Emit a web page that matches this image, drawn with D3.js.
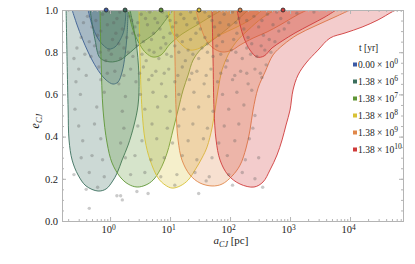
<!DOCTYPE html>
<html>
<head>
<meta charset="utf-8">
<script src="https://cdn.jsdelivr.net/npm/d3@7"></script>
<style>
  body { margin: 0; background: #fff; }
  text { font-family: "Liberation Serif", "DejaVu Serif", serif; fill: #222; }
</style>
</head>
<body>
<div id="chart"></div>
<script>
// times in the legend: mantissa and exponent of t [yr]
const timeMant = ["0.00", "1.38", "1.38", "1.38", "1.38", "1.38"];
const timeExp = ["0", "6", "7", "8", "9", "10"];

// mean a_CJ marker of each time, drawn on the e = 1 line
const markerA = [0.86, 1.78, 7.08, 30.4, 147, 764];

// contour outlines [a_CJ (pc), e_CJ], outer and inner level for each time
const outerT0 = [[0.233,1],[0.282,0.929],[0.341,0.867],[0.43,0.801],[0.521,0.754],[0.681,0.701],[0.858,0.668],[1.12,0.649],[1.36,0.659],[1.585,0.706],[1.78,0.787],[1.92,0.882],[2.0,1]];
const innerT0 = [[0.43,1],[0.501,0.929],[0.607,0.872],[0.764,0.834],[0.962,0.815],[1.21,0.825],[1.47,0.858],[1.71,0.905],[1.85,1]];

const outerT6 = [[0.185,1],[0.192,0.763],[0.2,0.526],[0.207,0.384],[0.233,0.289],[0.293,0.218],[0.398,0.166],[0.631,0.142],[0.858,0.152],[1.08,0.185],[1.31,0.227],[1.585,0.289],[2.0,0.36],[2.51,0.455],[2.93,0.55],[3.04,0.668],[2.82,0.81],[2.42,0.929],[2.15,1]];
const innerT6 = [[0.464,1],[0.562,0.858],[0.681,0.773],[1.0,0.754],[1.47,0.763],[2.0,0.791],[3.16,0.839],[5.62,0.891],[8.91,0.962],[11.2,1]];

const outerT7 = [[0.681,1],[0.708,0.763],[0.764,0.526],[0.891,0.37],[1.08,0.275],[1.47,0.209],[2.0,0.175],[2.82,0.161],[3.98,0.171],[5.21,0.194],[6.81,0.242],[8.91,0.322],[11.2,0.431],[13.6,0.526],[16.5,0.621],[20,0.692],[24.2,0.763],[31.6,0.81],[46.4,0.848],[73.6,0.891],[121,0.943],[200,1]];
const innerT7 = [[2.0,1],[2.42,0.905],[3.16,0.834],[3.98,0.796],[5.21,0.777],[7.08,0.787],[10,0.839],[15.8,0.886],[28.2,0.929],[46.4,0.967],[73.6,1]];

const outerT8 = [[3.04,1],[3.16,0.763],[3.41,0.526],[3.83,0.384],[4.64,0.289],[6.31,0.204],[8.25,0.171],[10.8,0.156],[14.7,0.166],[20,0.194],[26.1,0.242],[34.1,0.299],[41.4,0.351],[50.1,0.441],[56.2,0.526],[63.1,0.621],[73.6,0.716],[92.6,0.787],[126,0.848],[200,0.905],[341,0.962],[562,1]];
const innerT8 = [[9.26,1],[10.8,0.896],[15.8,0.834],[21.5,0.81],[31.6,0.82],[43,0.848],[68.1,0.882],[121,0.915],[215,0.953],[341,1]];

const outerT9 = [[11.7,1],[12.1,0.763],[12.6,0.526],[13.6,0.384],[15.8,0.289],[21.5,0.218],[31.6,0.18],[50.1,0.166],[73.6,0.175],[108,0.213],[147,0.265],[185,0.346],[215,0.431],[242,0.526],[293,0.63],[383,0.706],[521,0.787],[764,0.834],[1309,0.882],[2610,0.924],[5620,0.967],[10000,1]];
const innerT9 = [[27.1,1],[31.6,0.929],[39.8,0.858],[52.1,0.82],[73.6,0.801],[108,0.81],[147,0.834],[242,0.867],[414,0.896],[681,0.929],[1309,0.976],[1920,1]];

const outerT10 = [[50.1,1],[52.1,0.763],[54.1,0.526],[58.5,0.384],[68.1,0.289],[92.6,0.218],[147,0.175],[251,0.161],[355,0.185],[464,0.242],[607,0.313],[736,0.384],[858,0.455],[1000,0.526],[1122,0.621],[1360,0.692],[1850,0.749],[2930,0.81],[4640,0.867],[8250,0.891],[15850,0.919],[29300,0.953],[50100,0.991],[58500,1]];
const innerT10 = [[131,1],[147,0.929],[171,0.867],[215,0.81],[282,0.777],[369,0.782],[501,0.82],[736,0.853],[1210,0.891],[2150,0.929],[3830,0.967],[5850,1]];

// sampled systems [a_CJ (pc), e_CJ]
const samples = [
  [0.42,0.97],[0.75,0.98],[1.3,0.96],[2.1,0.97],[3.3,0.98],[5.6,0.96],[9,0.97],[15,0.98],[26,0.96],[45,0.97],[80,0.98],[140,0.96],[250,0.97],[420,0.98],[700,0.96],[1300,0.985],[2500,0.99],
  [0.36,0.94],[0.58,0.95],[1.0,0.99],[1.15,0.94],[1.45,0.99],[2.3,0.95],[2.9,0.94],[3.9,0.96],[4.6,0.99],[6.2,0.94],[7.5,0.99],[10,0.95],[12.5,0.94],[17,0.96],[22,0.99],[29,0.94],[38,0.99],[50,0.95],[68,0.94],[110,0.99],[125,0.94],[190,0.95],[340,0.95],[600,0.99],
  [0.5,0.92],[0.9,0.93],[1.6,0.91],[2.6,0.92],[4.2,0.93],[6.8,0.91],[11,0.92],[19,0.93],[32,0.91],[55,0.92],[95,0.93],[170,0.91],[300,0.92],[520,0.93],[950,0.94],
  [0.33,0.87],[0.62,0.88],[1.1,0.86],[1.9,0.87],[3,0.88],[4.9,0.86],[7.8,0.87],[13,0.88],[22,0.86],[38,0.87],[65,0.88],[115,0.86],[200,0.87],[360,0.88],[650,0.9],
  [0.45,0.85],[0.7,0.9],[1.25,0.89],[1.4,0.84],[2.4,0.89],[3.6,0.85],[5.3,0.89],[8.5,0.84],[10,0.89],[16,0.85],[27,0.89],[42,0.84],[75,0.85],[130,0.89],[230,0.84],[450,0.86],[800,0.91],
  [0.28,0.82],[0.55,0.83],[0.95,0.81],[1.7,0.82],[2.8,0.83],[4.5,0.81],[7,0.82],[12,0.83],[20,0.81],[34,0.82],[60,0.83],[105,0.81],[190,0.82],[330,0.83],[560,0.85],
  [0.38,0.79],[0.68,0.8],[1.05,0.79],[2.0,0.8],[3.4,0.79],[5.4,0.8],[8.8,0.79],[14,0.8],[24,0.79],[42,0.8],[70,0.79],[125,0.8],[220,0.79],[380,0.81],
  [0.25,0.77],[0.48,0.78],[0.85,0.76],[1.5,0.77],[2.4,0.78],[4,0.76],[6.5,0.77],[10.5,0.78],[18,0.76],[30,0.77],[52,0.78],[90,0.76],[160,0.77],[280,0.78],[480,0.8],
  [0.3,0.72],[0.65,0.73],[1.2,0.71],[2.2,0.72],[3.6,0.73],[5.8,0.71],[9.5,0.72],[16,0.73],[28,0.71],[48,0.72],[85,0.73],[150,0.71],[260,0.72],[400,0.74],
  [0.4,0.69],[0.9,0.7],[1.7,0.69],[3.1,0.7],[5,0.69],[8,0.7],[13.5,0.69],[23,0.7],[40,0.69],[70,0.7],[120,0.69],[190,0.7],[320,0.7],
  [0.27,0.66],[0.7,0.67],[1.4,0.65],[2.7,0.66],[4.4,0.67],[7.2,0.65],[12,0.66],[21,0.67],[37,0.65],[62,0.66],[110,0.67],[200,0.65],[340,0.68],
  [0.32,0.6],[0.8,0.61],[1.8,0.59],[3.2,0.6],[5.2,0.61],[8.5,0.59],[14,0.6],[25,0.61],[44,0.59],[75,0.6],[130,0.61],[230,0.62],
  [0.26,0.53],[0.6,0.54],[1.6,0.52],[3.8,0.53],[6.2,0.54],[10,0.52],[17,0.53],[30,0.54],[52,0.52],[95,0.53],[170,0.55],[260,0.5],
  [0.3,0.45],[0.55,0.46],[1.7,0.44],[2.9,0.45],[5,0.46],[9,0.44],[14,0.45],[24,0.46],[42,0.44],[80,0.45],[140,0.46],[240,0.44],
  [0.35,0.38],[0.7,0.39],[1.5,0.37],[3.4,0.38],[6,0.39],[11,0.37],[20,0.38],[36,0.39],[65,0.37],[120,0.38],[210,0.39],
  [0.33,0.3],[0.5,0.31],[0.75,0.29],[1.8,0.3],[2.6,0.31],[4.8,0.29],[8,0.3],[16,0.31],[28,0.29],[50,0.3],[90,0.31],[180,0.29],[300,0.3],
  [0.25,0.22],[0.45,0.23],[0.8,0.21],[2.2,0.22],[3.8,0.23],[7,0.21],[13,0.22],[26,0.23],[45,0.21],[95,0.22],[160,0.23],[260,0.2],
  [0.4,0.15],[0.62,0.16],[1.3,0.12],[1.6,0.1],[2.8,0.14],[4.3,0.13],[12,0.17],[30,0.13],[40,0.19],[110,0.17],[350,0.16],
  [0.45,0.06],[1.5,0.12]
];

const colors = ["#3c5aa6", "#3a6e5c", "#5f9636", "#d8c236", "#e0874a", "#cf3a3a"];
const regions = [
  [outerT0, innerT0], [outerT6, innerT6], [outerT7, innerT7],
  [outerT8, innerT8], [outerT9, innerT9], [outerT10, innerT10]
];

const width = 415, height = 264;
const mLeft = 62, mRight = 403, mTop = 10, mBottom = 221;

const x = d3.scaleLog().domain([0.158, 76400]).range([mLeft, mRight]);
const y = d3.scaleLinear().domain([0, 1]).range([mBottom, mTop]);

const svg = d3.select("#chart").append("svg")
    .attr("width", width)
    .attr("height", height);

svg.append("clipPath").attr("id", "plot")
  .append("rect")
    .attr("x", mLeft).attr("y", mTop)
    .attr("width", mRight - mLeft).attr("height", mBottom - mTop);

const line = d3.line()
    .x(d => x(d[0]))
    .y(d => y(d[1]))
    .curve(d3.curveCatmullRom.alpha(0.5));

const plot = svg.append("g").attr("clip-path", "url(#plot)");

// filled contours, earliest time first
regions.forEach((pair, i) => {
  pair.forEach(pts => {
    plot.append("path")
        .attr("d", line(pts) + "Z")
        .attr("fill", colors[i])
        .attr("fill-opacity", 0.26)
        .attr("stroke", "none");
    plot.append("path")
        .attr("d", line(pts))
        .attr("fill", "none")
        .attr("stroke", colors[i])
        .attr("stroke-width", 0.9);
  });
});

// sample points
plot.append("g")
  .selectAll("circle")
  .data(samples)
  .join("circle")
    .attr("cx", d => x(d[0]))
    .attr("cy", d => y(d[1]))
    .attr("r", 1.7)
    .attr("fill", "#5a5a5a")
    .attr("fill-opacity", 0.32);

// frame and ticks
const frameColor = "#b4b4b4";
const majorX = [1, 10, 100, 1000, 10000];
const minorX = x.ticks().filter(v => !majorX.includes(v));
const majorY = [0, 0.2, 0.4, 0.6, 0.8, 1.0];
const minorY = d3.range(0, 1.0001, 0.05);

function styleAxis(g) {
  g.select(".domain").attr("stroke", frameColor);
  g.selectAll(".tick line").attr("stroke", frameColor);
}

svg.append("g").attr("transform", `translate(0,${mBottom})`)
    .call(d3.axisBottom(x).tickValues(minorX).tickSize(-2).tickFormat(""))
    .call(styleAxis);
svg.append("g").attr("transform", `translate(0,${mTop})`)
    .call(d3.axisTop(x).tickValues(minorX).tickSize(-2).tickFormat(""))
    .call(styleAxis);
svg.append("g").attr("transform", `translate(0,${mTop})`)
    .call(d3.axisTop(x).tickValues(majorX).tickSize(-4).tickFormat(""))
    .call(styleAxis);
const xAxis = svg.append("g").attr("transform", `translate(0,${mBottom})`)
    .call(d3.axisBottom(x).tickValues(majorX).tickSize(-4).tickPadding(5).tickFormat(""))
    .call(styleAxis);

xAxis.selectAll(".tick text")
    .attr("font-size", 10.5)
    .attr("fill", "#222")
    .attr("x", -2)
    .each(function(d) {
      const t = d3.select(this);
      t.append("tspan").text("10");
      t.append("tspan").attr("dy", "-0.45em").attr("font-size", 7.5).text(Math.round(Math.log10(d)));
    });

svg.append("g").attr("transform", `translate(${mLeft},0)`)
    .call(d3.axisLeft(y).tickValues(minorY).tickSize(-2).tickFormat(""))
    .call(styleAxis);
svg.append("g").attr("transform", `translate(${mRight},0)`)
    .call(d3.axisRight(y).tickValues(minorY).tickSize(-2).tickFormat(""))
    .call(styleAxis);
svg.append("g").attr("transform", `translate(${mRight},0)`)
    .call(d3.axisRight(y).tickValues(majorY).tickSize(-4).tickFormat(""))
    .call(styleAxis);
svg.append("g").attr("transform", `translate(${mLeft},0)`)
    .call(d3.axisLeft(y).tickValues(majorY).tickSize(-4).tickPadding(4).tickFormat(d3.format(".1f")))
    .call(styleAxis)
    .selectAll(".tick text")
    .attr("font-size", 10.5)
    .attr("fill", "#222");

// mean markers on the top edge
svg.append("g")
  .selectAll("circle")
  .data(markerA)
  .join("circle")
    .attr("cx", d => x(d))
    .attr("cy", y(1))
    .attr("r", 2)
    .attr("fill", (d, i) => colors[i])
    .attr("stroke", "#222")
    .attr("stroke-width", 0.8);

// axis labels
const xl = svg.append("text")
    .attr("x", 231).attr("y", 244)
    .attr("text-anchor", "middle")
    .attr("font-size", 11);
xl.append("tspan").attr("font-style", "italic").text("a");
xl.append("tspan").attr("font-style", "italic").attr("font-size", 8).attr("dy", 2.5).text("CJ");
xl.append("tspan").attr("dy", -2.5).text(" [pc]");

const yl = svg.append("text")
    .attr("transform", "translate(39,121) rotate(-90)")
    .attr("text-anchor", "middle")
    .attr("font-size", 12);
yl.append("tspan").attr("font-style", "italic").text("e");
yl.append("tspan").attr("font-style", "italic").attr("font-size", 8.5).attr("dy", 2.5).text("CJ");

// legend
svg.append("text")
    .attr("x", 359).attr("y", 51)
    .attr("font-size", 9.5)
    .text("t [yr]");

const legend = svg.append("g")
  .selectAll("g")
  .data(timeMant)
  .join("g")
    .attr("transform", (d, i) => `translate(353,${64.5 + i * 17})`);

legend.append("rect")
    .attr("x", 0).attr("y", -2)
    .attr("width", 4).attr("height", 4)
    .attr("fill", (d, i) => colors[i]);

const lt = legend.append("text")
    .attr("x", 5).attr("y", 3)
    .attr("font-size", 9.5);
lt.append("tspan").text(d => d + " \u00d7 10");
lt.append("tspan").attr("dy", "-0.45em").attr("font-size", 7.5).text((d, i) => timeExp[i]);
</script>
</body>
</html>
